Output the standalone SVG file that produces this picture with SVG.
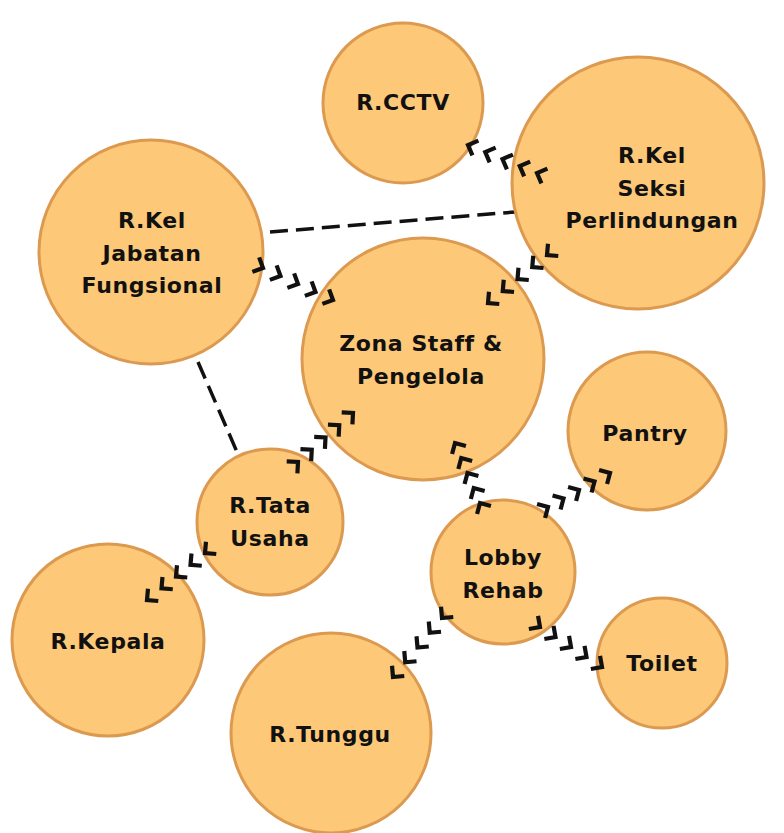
<svg xmlns="http://www.w3.org/2000/svg" xmlns:xlink="http://www.w3.org/1999/xlink" width="784" height="833" viewBox="0 0 784 833">
<style>
.n{fill:#FDC878;stroke:#DC9A50;stroke-width:3}
.t{font-family:"DejaVu Sans","Open Sans",sans-serif;font-weight:700;font-size:22px;fill:#111;text-anchor:middle;dominant-baseline:central;letter-spacing:0.6px}
.d{stroke:#111;stroke-width:3.5;stroke-dasharray:18,8;fill:none}
.c{stroke:#111;stroke-width:4.2;fill:none;stroke-linecap:butt;stroke-linejoin:miter}
</style>
<defs>
<path id="chev" d="M-8,-8 L0,0 L-8,8"/>
</defs>
<rect width="784" height="833" fill="#fff"/>
<g id="connectors">
<line class="d" x1="270" y1="232" x2="515" y2="212"/>
<line class="d" x1="198" y1="362" x2="237" y2="452"/>
</g>
<g id="n-cctv"><circle class="n" cx="403" cy="103" r="80"/><text class="t" x="403" y="102">R.CCTV</text></g>
<g id="n-seksi"><circle class="n" cx="638" cy="183" r="126"/><text class="t" x="652" y="155">R.Kel</text><text class="t" x="652" y="188">Seksi</text><text class="t" x="652" y="220">Perlindungan</text></g>
<g id="n-jabatan"><circle class="n" cx="151" cy="252" r="112"/><text class="t" x="152" y="220">R.Kel</text><text class="t" x="152" y="253">Jabatan</text><text class="t" x="152" y="285">Fungsional</text></g>
<g id="n-zona"><circle class="n" cx="423" cy="359" r="121"/><text class="t" x="421" y="343">Zona Staff &amp;</text><text class="t" x="421" y="376">Pengelola</text></g>
<g id="n-pantry"><circle class="n" cx="647" cy="431" r="79"/><text class="t" x="645" y="433">Pantry</text></g>
<g id="n-tata"><circle class="n" cx="270" cy="522" r="73"/><text class="t" x="270" y="505">R.Tata</text><text class="t" x="270" y="538">Usaha</text></g>
<g id="n-lobby"><circle class="n" cx="503" cy="572" r="72"/><text class="t" x="503" y="557">Lobby</text><text class="t" x="503" y="590">Rehab</text></g>
<g id="n-kepala"><circle class="n" cx="108" cy="640" r="96"/><text class="t" x="108" y="641">R.Kepala</text></g>
<g id="n-tunggu"><circle class="n" cx="331" cy="733" r="100"/><text class="t" x="330" y="734">R.Tunggu</text></g>
<g id="n-toilet"><circle class="n" cx="662" cy="663" r="65"/><text class="t" x="662" y="663">Toilet</text></g>
<g id="chevrons" class="c">
<use xlink:href="#chev" transform="translate(537,173) rotate(202)"/>
<use xlink:href="#chev" transform="translate(519.75,166) rotate(202)"/>
<use xlink:href="#chev" transform="translate(502.5,159) rotate(202)"/>
<use xlink:href="#chev" transform="translate(485.25,152) rotate(202)"/>
<use xlink:href="#chev" transform="translate(468,145) rotate(202)"/>

<use xlink:href="#chev" transform="translate(263,268) rotate(25)"/>
<use xlink:href="#chev" transform="translate(280.5,276) rotate(25)"/>
<use xlink:href="#chev" transform="translate(298,284) rotate(25)"/>
<use xlink:href="#chev" transform="translate(315.5,292) rotate(25)"/>
<use xlink:href="#chev" transform="translate(333,300) rotate(25)"/>

<use xlink:href="#chev" transform="translate(298,462) rotate(-42)"/>
<use xlink:href="#chev" transform="translate(311.75,449.75) rotate(-42)"/>
<use xlink:href="#chev" transform="translate(325.5,437.5) rotate(-42)"/>
<use xlink:href="#chev" transform="translate(339.25,425.25) rotate(-42)"/>
<use xlink:href="#chev" transform="translate(353,413) rotate(-42)"/>

<use xlink:href="#chev" transform="translate(480,503) rotate(240)"/>
<use xlink:href="#chev" transform="translate(473.75,488) rotate(240)"/>
<use xlink:href="#chev" transform="translate(467.5,473) rotate(240)"/>
<use xlink:href="#chev" transform="translate(461.25,458) rotate(240)"/>
<use xlink:href="#chev" transform="translate(455,443) rotate(240)"/>

<use xlink:href="#chev" transform="translate(548,507) rotate(-30)"/>
<use xlink:href="#chev" transform="translate(563.5,498.5) rotate(-30)"/>
<use xlink:href="#chev" transform="translate(579,490) rotate(-30)"/>
<use xlink:href="#chev" transform="translate(594.5,481.5) rotate(-30)"/>
<use xlink:href="#chev" transform="translate(610,473) rotate(-30)"/>

<use xlink:href="#chev" transform="translate(205,553) rotate(140)"/>
<use xlink:href="#chev" transform="translate(190.5,564.75) rotate(140)"/>
<use xlink:href="#chev" transform="translate(176,576.5) rotate(140)"/>
<use xlink:href="#chev" transform="translate(161.5,588.25) rotate(140)"/>
<use xlink:href="#chev" transform="translate(147,600) rotate(140)"/>

<use xlink:href="#chev" transform="translate(442,618) rotate(130)"/>
<use xlink:href="#chev" transform="translate(429.75,632.75) rotate(130)"/>
<use xlink:href="#chev" transform="translate(417.5,647.5) rotate(130)"/>
<use xlink:href="#chev" transform="translate(405.25,662.25) rotate(130)"/>
<use xlink:href="#chev" transform="translate(393,677) rotate(130)"/>

<use xlink:href="#chev" transform="translate(540,627) rotate(35)"/>
<use xlink:href="#chev" transform="translate(555.5,637) rotate(35)"/>
<use xlink:href="#chev" transform="translate(571,647) rotate(35)"/>
<use xlink:href="#chev" transform="translate(586.5,657) rotate(35)"/>
<use xlink:href="#chev" transform="translate(602,667) rotate(35)"/>

<use xlink:href="#chev" transform="translate(547,255) rotate(140)"/>
<use xlink:href="#chev" transform="translate(532.25,267) rotate(140)"/>
<use xlink:href="#chev" transform="translate(517.5,279) rotate(140)"/>
<use xlink:href="#chev" transform="translate(502.75,291) rotate(140)"/>
<use xlink:href="#chev" transform="translate(488,303) rotate(140)"/>
</g>
</svg>
